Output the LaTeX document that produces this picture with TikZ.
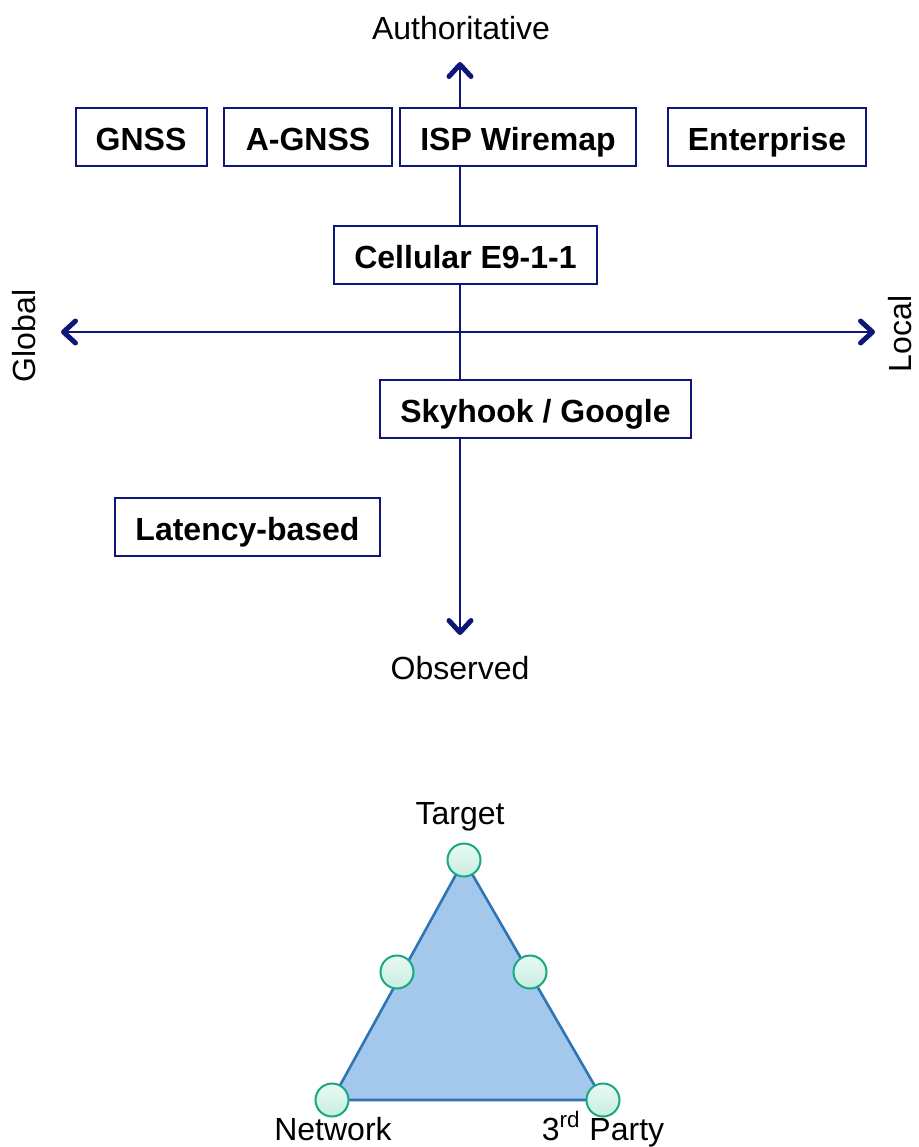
\documentclass[tikz,border=0pt]{standalone}
\usepackage{fontspec}
\setmainfont{Liberation Sans}
\usetikzlibrary{arrows.meta}
\definecolor{axisblue}{RGB}{14,22,118}
\definecolor{trifill}{RGB}{164,200,236}
\definecolor{triedge}{RGB}{46,117,182}
\definecolor{dotedge}{RGB}{22,168,132}
\definecolor{dottop}{RGB}{232,249,243}
\definecolor{dotbot}{RGB}{200,238,224}
\tikzset{
  axis/.style={draw=axisblue, line width=1pt,
    -{Straight Barb[length=6pt,width=11pt,line width=2.5pt,line cap=round,line join=round]}},
  tech/.style={draw=axisblue, fill=white, line width=1pt, inner sep=0pt,
    minimum height=29pt, text height=13pt, text depth=0pt,
    font=\fontsize{16}{19}\selectfont\bfseries},
  lbl/.style={font=\fontsize{16}{19}\selectfont, inner sep=0pt,
    text height=11.5pt, text depth=0.9pt},
  dot/.style={circle, draw=dotedge, line width=1pt, minimum size=16.5pt, inner sep=0pt,
    top color=dottop, bottom color=dotbot},
}
\begin{document}
\begin{tikzpicture}[x=0.5pt,y=-0.5pt]
\useasboundingbox (0,0) rectangle (918,1147);

% axes
\coordinate (vtop) at (460,62);
\coordinate (vbot) at (460,635);
\coordinate (hleft) at (61,332);
\coordinate (hright) at (875,332);
\coordinate (vmid) at (460,332);
\draw[axis] (vmid) -- (vtop);
\draw[axis] (vmid) -- (vbot);
\draw[axis] (vmid) -- (hleft);
\draw[axis] (vmid) -- (hright);

% axis labels
\node[lbl] (auth) at (461,28.5) {Authoritative};
\node[lbl] (obs) at (460,668.5) {Observed};
\node[lbl, rotate=90] (global) at (25,336) {Global};
\node[lbl, rotate=90] (local) at (901,334) {Local};

% location technologies
\node[tech, minimum width=65.5pt] (gnss) at (141,137) {GNSS};
\node[tech, minimum width=84pt] (agnss) at (308,137) {A-GNSS};
\node[tech, minimum width=118pt] (isp) at (518,137) {ISP Wiremap};
\node[tech, minimum width=99pt] (ent) at (767,137) {Enterprise};
\node[tech, minimum width=131.5pt] (cell) at (465.5,255) {Cellular E9-1-1};
\node[tech, minimum width=155.5pt] (sky) at (535.5,409) {Skyhook / Google};
\node[tech, minimum width=132.5pt] (lat) at (247.5,527) {Latency-based};

% trust triangle
\coordinate (tT) at (464,860);
\coordinate (tN) at (332,1100);
\coordinate (tP) at (603,1100);
\draw[fill=trifill, draw=triedge, line width=1.3pt, line join=round] (tT) -- (tP) -- (tN) -- cycle;
\node[dot] (dT) at (tT) {};
\node[dot] (dN) at (tN) {};
\node[dot] (dP) at (tP) {};
\node[dot] (dL) at (397,972) {};
\node[dot] (dR) at (530,972) {};

\node[lbl] (target) at (460,814) {Target};
\node[lbl] (network) at (333,1129.5) {Network};
\node[lbl] (third) at (603,1129.5) {3\textsuperscript{rd} Party};
\end{tikzpicture}
\end{document}
